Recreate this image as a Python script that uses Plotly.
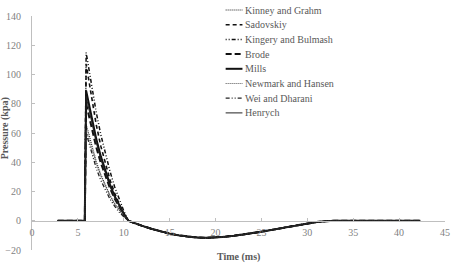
import plotly.graph_objects as go

# ---- data ----
names = ["Kinney and Grahm", "Sadovskiy", "Kingery and Bulmash", "Brode",
         "Mills", "Newmark and Hansen", "Wei and Dharani", "Henrych"]

t_pre = [2.8, 5.75]
p_pre = [0, 0]

t_pos = [5.9, 6.5, 7.0, 7.5, 8.0, 8.5, 9.0, 9.5, 10.0, 10.5]
kinney = [66, 51.1, 40.5, 31.5, 23.8, 17.2, 11.7, 7.1, 3.2, 0]
sadovskiy = [107, 82.8, 65.7, 51.0, 38.5, 27.9, 19.0, 11.4, 5.2, 0]
kingery = [115, 91.3, 74.1, 58.8, 45.3, 33.7, 23.3, 14.4, 6.7, 0]
brode = [80, 62.7, 50.3, 39.5, 30.2, 22.2, 15.2, 9.3, 4.2, 0]
mills = [89, 69.8, 56.0, 44.0, 33.6, 24.7, 16.9, 10.3, 4.7, 0]
newmark = [62, 48.6, 39.0, 30.6, 23.4, 17.2, 11.8, 7.2, 3.3, 0]
wei = [60, 45.8, 35.9, 27.6, 20.6, 14.8, 10.0, 5.9, 2.7, 0]
henrych = [85, 66.6, 53.5, 42.0, 32.0, 23.5, 16.2, 9.9, 4.5, 0]

t_neg = [11, 12, 13, 14, 15, 16, 17, 18, 19, 20, 21, 22, 23, 24, 25, 26,
         27, 28, 29, 30, 31, 32, 33, 35, 42.3]
p_neg = [-1.3, -3.5, -5.5, -7.3, -8.8, -10.0, -11.0, -11.5, -11.7, -11.5,
         -11.0, -10.3, -9.5, -8.5, -7.5, -6.4, -5.2, -4.0, -2.8, -1.7,
         -0.9, -0.3, 0, 0, 0]

x_ticks = [0, 5, 10, 15, 20, 25, 30, 35, 40, 45]
y_ticks = [-20, 0, 20, 40, 60, 80, 100, 120, 140]

series = [kinney, sadovskiy, kingery, brode, mills, newmark, wei, henrych]
styles = [
    dict(color="#222222", width=1.2, dash="1px,1px"),
    dict(color="#111111", width=1.6, dash="4px,3px"),
    dict(color="#111111", width=1.5, dash="1px,2px,1px,2px,4px,2px"),
    dict(color="#111111", width=2.0, dash="6px,3px"),
    dict(color="#111111", width=2.0, dash="solid"),
    dict(color="#555555", width=1.0, dash="1px,1px"),
    dict(color="#222222", width=1.3, dash="4px,2px,1px,2px,1px,2px"),
    dict(color="#222222", width=1.0, dash="solid"),
]

SERIF = "'Liberation Serif', 'Times New Roman', Times, serif"

fig = go.Figure()
for name, vals, st in zip(names, series, styles):
    fig.add_trace(go.Scatter(
        x=t_pre + t_pos + t_neg,
        y=p_pre + vals + p_neg,
        mode="lines", name=name, line=st, showlegend=False,
    ))

# manual legend (compact, as in reference)
L, R, T, B = 32, 450, 16, 250
def px(x):
    return (x - L) / (R - L)
def py(y):
    return (B - y) / (B - T)

for i, (name, st) in enumerate(zip(names, styles)):
    yc = 10 + i * 14.7
    fig.add_shape(type="line", xref="paper", yref="paper",
                  x0=px(228), x1=px(245), y0=py(yc), y1=py(yc),
                  line=st)
    fig.add_annotation(xref="paper", yref="paper", x=px(246), y=py(yc),
                       text=name, showarrow=False, xanchor="left",
                       yanchor="middle",
                       font=dict(family=SERIF, size=10, color="#595959"))

fig.add_annotation(xref="paper", yref="paper", x=px(241), y=py(257),
                   text="<b>Time (ms)</b>", showarrow=False,
                   xanchor="center", yanchor="middle",
                   font=dict(family=SERIF, size=10, color="#595959"))
fig.add_annotation(xref="paper", yref="paper", x=px(5), y=py(128),
                   text="<b>Pressure (kpa)</b>", showarrow=False,
                   textangle=-90, xanchor="center", yanchor="middle",
                   font=dict(family=SERIF, size=10, color="#595959"))

fig.update_layout(
    width=455, height=263,
    margin=dict(l=L, r=455 - R, t=T, b=263 - B),
    paper_bgcolor="white", plot_bgcolor="white",
    showlegend=False,
    font=dict(family=SERIF, size=10, color="#7f7f7f"),
    xaxis=dict(range=[0, 45], tickvals=x_ticks, showgrid=False,
               zeroline=False, showline=True, linecolor="#bfbfbf",
               linewidth=1, ticks="inside", ticklen=3, tickcolor="#bfbfbf",
               anchor="free", position=20 / 160, ticklabelstandoff=2,
               tickfont=dict(family=SERIF, size=10, color="#7f7f7f")),
    yaxis=dict(range=[-20, 140], tickvals=y_ticks, showgrid=False,
               zeroline=False, showline=True, linecolor="#bfbfbf",
               linewidth=1, ticks="inside", ticklen=3, tickcolor="#bfbfbf",
               ticklabelstandoff=8,
               tickfont=dict(family=SERIF, size=10, color="#7f7f7f")),
)

fig.write_html("out.html")
